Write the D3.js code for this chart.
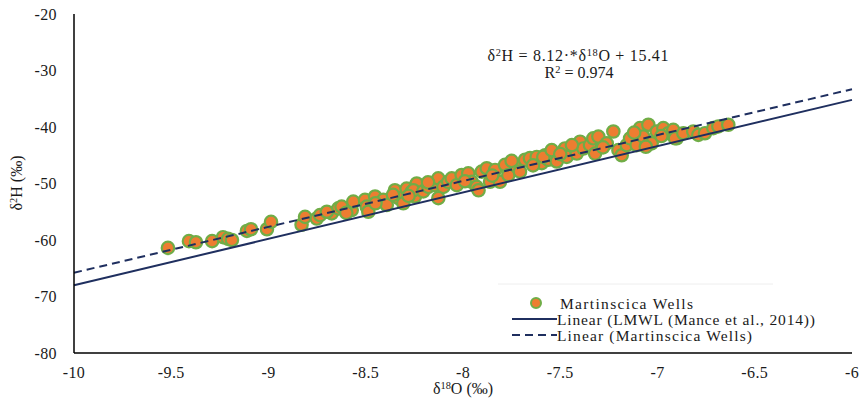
<!DOCTYPE html>
<html><head><meta charset="utf-8">
<script src="https://cdn.jsdelivr.net/npm/d3@7"></script>
<style>body{margin:0;background:#fff}</style>
</head><body><svg id="c" width="864" height="403"></svg>
<script>
const xTicks=[-10,-9.5,-9,-8.5,-8,-7.5,-7,-6.5,-6];
const yTicks=[-80,-70,-60,-50,-40,-30,-20];
const d18O=[-9.517,-9.409,-9.373,-9.290,-9.234,-9.208,-9.188,-9.111,-9.090,-9.008,-8.987,
-8.830,-8.812,-8.752,-8.735,-8.675,-8.641,-8.624,-8.572,-8.564,-8.504,-8.495,-8.487,-8.452,-8.410,-8.392,-8.350,-8.332,-8.307,-8.290,-8.264,-8.238,-8.247,
-8.255,-8.204,-8.178,-8.144,-8.127,-8.101,-8.076,-8.058,-8.032,-8.007,-7.973,-7.955,-7.930,-7.904,-7.878,-7.861,-7.835,-7.810,-7.784,-7.767,-7.724,-7.707,-7.681,-7.656,-7.621,-7.595,-7.578,-7.561,-8.127,-7.920,
-7.587,-7.544,-7.518,-7.476,-7.467,-7.415,-7.398,-7.381,-7.347,-7.330,-7.321,-7.304,-7.261,-7.227,-7.201,-7.184,-7.158,-7.141,-7.107,-7.090,-7.073,-7.047,-7.030,-7.004,-6.970,-6.944,-6.919,-6.901,
-6.910,-6.867,-6.816,-6.790,-6.756,-6.713,-6.687,-6.636,
-8.45,-8.36,-8.18,-7.99,-7.75,-7.64,-7.50,-7.44,-7.28,-7.12,-7.06,-6.98,-8.60,-8.70,-8.28,-7.85];
const d2H=[-61.4,-60.2,-60.4,-60.2,-59.5,-59.8,-60.0,-58.4,-58.1,-58.1,-56.8,
-57.3,-55.9,-56.2,-55.6,-55.3,-54.4,-54.1,-54.7,-53.2,-52.9,-54.1,-55.0,-52.3,-52.9,-53.8,-51.2,-52.6,-53.5,-50.9,-51.5,-50.0,-52.3,
-51.2,-51.4,-50.6,-50.3,-49.1,-50.6,-49.7,-49.1,-50.3,-48.5,-48.2,-49.7,-50.6,-47.9,-47.3,-49.7,-47.6,-49.7,-46.7,-48.5,-47.0,-47.9,-45.8,-45.5,-45.3,-46.4,-45.0,-45.8,-52.6,-51.2,
-45.3,-44.1,-46.1,-43.8,-45.3,-44.7,-42.6,-43.8,-43.2,-42.0,-44.7,-41.7,-42.9,-40.8,-44.1,-45.0,-43.2,-42.0,-43.2,-40.2,-41.7,-39.6,-42.9,-40.8,-40.2,-41.1,-40.5,-42.0,
-42.0,-41.1,-40.8,-41.4,-41.1,-40.2,-39.9,-39.6,
-53.5,-52.0,-49.8,-49.6,-46.0,-46.8,-44.8,-43.2,-43.6,-41.0,-43.5,-41.6,-55.2,-55.0,-52.2,-48.6];
const lmwl={slope:8.2,intercept:14};
const fit={slope:8.12,intercept:15.41};
const legendLabels=["Martinscica Wells","Linear (LMWL (Mance et al., 2014))","Linear (Martinscica Wells)"];

const svg=d3.select("#c");
const x=d3.scaleLinear().domain([-10,-6]).range([74,852]);
const y=d3.scaleLinear().domain([-80,-20]).range([353,14]);
const navy="#1f2f5f";
const FF="'Liberation Serif','Tinos','Times New Roman',serif";
const txtCol="#1a1a1a";

svg.append("g").selectAll("text").data(yTicks).join("text")
 .attr("x",57).attr("y",d=>y(d)+5.5).attr("text-anchor","end").attr("font-size",16).attr("fill",txtCol)
 .style("font-family",FF).style("letter-spacing","0.4px").text(d=>d);
svg.append("g").selectAll("text").data(xTicks).join("text")
 .attr("x",d=>x(d)).attr("y",378).attr("text-anchor","middle").attr("font-size",16).attr("fill",txtCol)
 .style("font-family",FF).style("letter-spacing","0.4px").text(d=>d);

const pts=d18O.map((v,i)=>({x:v,y:d2H[i]}));
svg.append("g").selectAll("circle").data(pts).join("circle")
 .attr("cx",d=>x(d.x)).attr("cy",d=>y(d.y)).attr("r",6.2)
 .attr("fill","#ed7d31").attr("stroke","#70ad47").attr("stroke-width",2.2);

const line=d3.line().x(d=>x(d[0])).y(d=>y(d[1]));
const ends=[-10,-6];
svg.append("path").attr("d",line(ends.map(v=>[v,lmwl.slope*v+lmwl.intercept])))
 .attr("fill","none").attr("stroke",navy).attr("stroke-width",2);
svg.append("path").attr("d",line(ends.map(v=>[v,fit.slope*v+fit.intercept])))
 .attr("fill","none").attr("stroke",navy).attr("stroke-width",2).attr("stroke-dasharray","8,5");

svg.append("line").attr("x1",74).attr("x2",74).attr("y1",y(-20)).attr("y2",y(-80)).attr("stroke","#000").attr("stroke-width",1.5);
svg.append("line").attr("x1",74).attr("x2",852).attr("y1",y(-80)).attr("y2",y(-80)).attr("stroke","#000").attr("stroke-width",1.5);

function rich(t,parts,base){
 let up=false;
 parts.forEach(p=>{
  if(p.s){t.append("tspan").attr("font-size",base*0.65).attr("dy",-5).text(p.s);up=true;}
  else {const ts=t.append("tspan").text(p.t); if(up){ts.attr("dy",5);up=false;}}
 });
}
function mk(xp,yp,size){
 return svg.append("text").attr("x",xp).attr("y",yp).attr("text-anchor","middle").attr("font-size",size)
  .attr("fill",txtCol).style("font-family",FF);
}
const eq=mk(578,61,16);
rich(eq,[{t:"δ"},{s:"2"},{t:"H = 8.12·*δ"},{s:"18"},{t:"O + 15.41"}],16);
eq.attr("textLength",181).attr("lengthAdjust","spacing");
const r2=mk(579,78,16);
rich(r2,[{t:"R"},{s:"2"},{t:" = 0.974"}],16);

const xt=mk(463,394,16);
rich(xt,[{t:"δ"},{s:"18"},{t:"O (‰)"}],16);
const yt=svg.append("text").attr("transform","translate(22,183) rotate(-90)").attr("text-anchor","middle").attr("font-size",16)
 .attr("fill",txtCol).style("font-family",FF);
rich(yt,[{t:"δ"},{s:"2"},{t:"H (‰)"}],16);

svg.append("line").attr("x1",498).attr("x2",773).attr("y1",284).attr("y2",284).attr("stroke","#eee").attr("stroke-width",1);
const lg=svg.append("g");
lg.append("circle").attr("cx",536).attr("cy",303).attr("r",5).attr("fill","#ed7d31").attr("stroke","#70ad47").attr("stroke-width",2);
lg.append("line").attr("x1",512).attr("x2",557).attr("y1",319).attr("y2",319).attr("stroke",navy).attr("stroke-width",2);
lg.append("line").attr("x1",512).attr("x2",557).attr("y1",335).attr("y2",335).attr("stroke",navy).attr("stroke-width",2).attr("stroke-dasharray","8,5");
const lens=[133,258,195];
lg.selectAll("text").data(legendLabels).join("text")
 .attr("x",(d,i)=>i===0?560:557).attr("y",(d,i)=>308.5+i*16).attr("font-size",15.5).attr("fill",txtCol)
 .style("font-family",FF).attr("textLength",(d,i)=>lens[i]).attr("lengthAdjust","spacing").text(d=>d);
</script></body></html>
